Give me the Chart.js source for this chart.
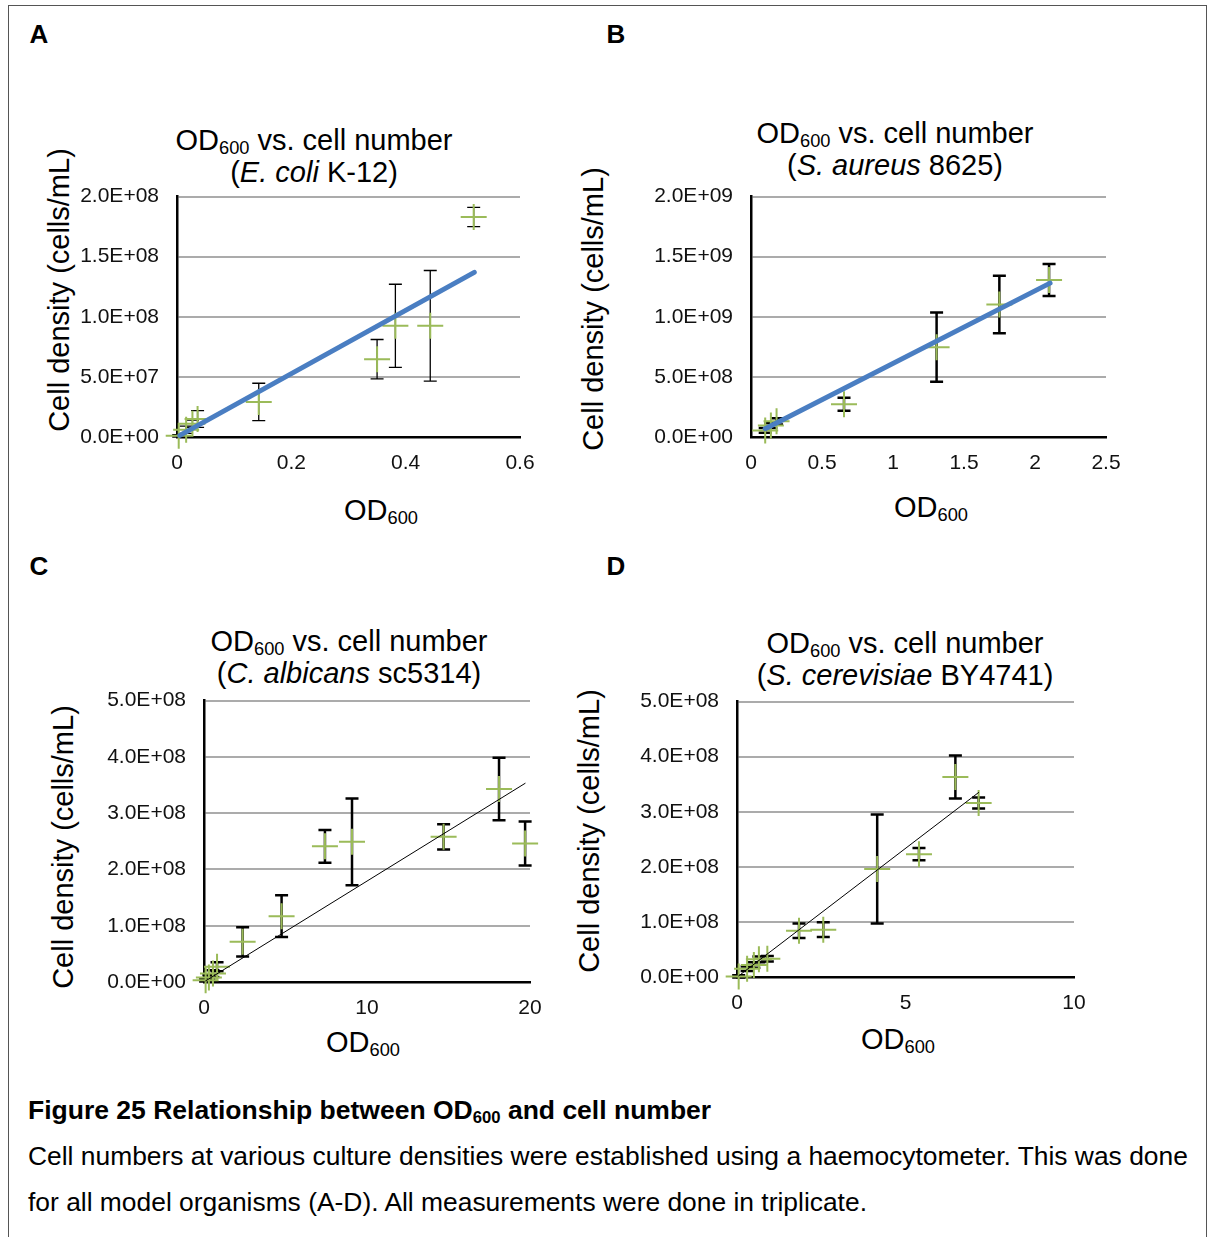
<!DOCTYPE html>
<html>
<head>
<meta charset="utf-8">
<script src="https://cdn.jsdelivr.net/npm/chart.js@4.4.1/dist/chart.umd.min.js"></script>
<style>
  body { margin: 0; width: 1209px; height: 1237px; background: #fff; overflow: hidden; position: relative;
         font-family: "Liberation Sans", Arial, sans-serif; color: #000; }
  .frame { position: absolute; left: 8px; top: 5px; width: 1199px; height: 1300px; border: 1px solid #555; box-sizing: border-box; }
  .box { position: absolute; line-height: 0; }
  .box canvas { display: block; }
  .t { position: absolute; white-space: nowrap; line-height: 1; transform: translate(-50%, -50%); }
  .title { font-size: 29px; }
  .axis { font-size: 29px; }
  .rot { transform: translate(-50%, -50%) rotate(-90deg); }
  .letter { font-size: 26px; font-weight: bold; }
  sub { font-size: 0.63em; vertical-align: -0.24em; line-height: 0; }
  .cap { position: absolute; left: 28px; white-space: nowrap; line-height: 1; transform: translateY(-50%); font-size: 26.4px; }
</style>
</head>
<body>
<div class="frame"></div>

<div class="t letter" style="left:39px;top:34px">A</div>
<div class="t letter" style="left:616px;top:34px">B</div>
<div class="t letter" style="left:39px;top:566px">C</div>
<div class="t letter" style="left:616px;top:566px">D</div>

<div class="t title" style="left:314px;top:140px">OD<sub>600</sub> vs. cell number</div>
<div class="t title" style="left:314px;top:172px">(<i>E. coli</i> K-12)</div>
<div class="t title" style="left:895px;top:133px">OD<sub>600</sub> vs. cell number</div>
<div class="t title" style="left:895px;top:165px">(<i>S. aureus</i> 8625)</div>
<div class="t title" style="left:349px;top:641px">OD<sub>600</sub> vs. cell number</div>
<div class="t title" style="left:349px;top:673px">(<i>C. albicans</i> sc5314)</div>
<div class="t title" style="left:905px;top:643px">OD<sub>600</sub> vs. cell number</div>
<div class="t title" style="left:905px;top:675px">(<i>S. cerevisiae</i> BY4741)</div>

<div class="t axis rot" style="left:59px;top:290px">Cell density (cells/mL)</div>
<div class="t axis rot" style="left:593px;top:309px">Cell density (cells/mL)</div>
<div class="t axis rot" style="left:63px;top:847px">Cell density (cells/mL)</div>
<div class="t axis rot" style="left:589px;top:831px">Cell density (cells/mL)</div>

<div class="t axis" style="left:381px;top:510px">OD<sub>600</sub></div>
<div class="t axis" style="left:931px;top:507px">OD<sub>600</sub></div>
<div class="t axis" style="left:363px;top:1042px">OD<sub>600</sub></div>
<div class="t axis" style="left:898px;top:1039px">OD<sub>600</sub></div>

<div class="box" id="boxA"><canvas id="chartA"></canvas></div>
<div class="box" id="boxB"><canvas id="chartB"></canvas></div>
<div class="box" id="boxC"><canvas id="chartC"></canvas></div>
<div class="box" id="boxD"><canvas id="chartD"></canvas></div>

<div class="cap" style="top:1110px;font-size:26.5px"><b>Figure 25 Relationship between OD<sub>600</sub> and cell number</b></div>
<div class="cap" style="top:1156px">Cell numbers at various culture densities were established using a haemocytometer. This was done</div>
<div class="cap" style="top:1202px">for all model organisms (A-D). All measurements were done in triplicate.</div>

<script>
// A - E. coli K-12
var odA    = [0.003, 0.016, 0.027, 0.036, 0.143, 0.350, 0.382, 0.443, 0.519];
var cellsA = [1e6, 6e6, 1.1e7, 1.5e7, 2.92e7, 6.47e7, 9.25e7, 9.25e7, 1.83e8];
var errA   = [1e6, 3e6, 3e6, 7e6, 1.55e7, 1.64e7, 3.46e7, 4.6e7, 8e6];
var trendXA = [0.005, 0.52];
var trendYA = [1.3e6, 1.37e8];

// B - S. aureus 8625
var odB    = [0.10, 0.14, 0.18, 0.655, 1.307, 1.749, 2.099];
var cellsB = [5.5e7, 9.5e7, 1.3e8, 2.72e8, 7.47e8, 1.103e9, 1.306e9];
var errB   = [2e7, 2e7, 2.5e7, 5.4e7, 2.88e8, 2.39e8, 1.33e8];
var trendXB = [0.10, 2.106];
var trendYB = [6.9e7, 1.28e9];

// C - C. albicans sc5314
var odC    = [0.10, 0.30, 0.55, 0.80, 2.37, 4.76, 7.42, 9.08, 14.7, 18.1, 19.7];
var cellsC = [3e6, 8e6, 1.5e7, 2.7e7, 7.13e7, 1.17e8, 2.41e8, 2.49e8, 2.58e8, 3.43e8, 2.46e8];
var errC   = [2e6, 4e6, 6e6, 8e6, 2.6e7, 3.7e7, 2.9e7, 7.7e7, 2.25e7, 5.55e7, 3.9e7];
var trendXC = [0.1, 19.7];
var trendYC = [2e6, 3.53e8];

// D - S. cerevisiae BY4741
var odD    = [0.05, 0.30, 0.50, 0.65, 0.90, 1.84, 2.56, 4.16, 5.40, 6.48, 7.17];
var cellsD = [1e6, 1.5e7, 2.2e7, 3.2e7, 3.3e7, 8.4e7, 8.6e7, 1.96e8, 2.23e8, 3.63e8, 3.16e8];
var errD   = [2e6, 4e6, 5e6, 5e6, 5e6, 1.3e7, 1.35e7, 9.9e7, 1.1e7, 3.9e7, 1e7];
var trendXD = [0.05, 7.17];
var trendYD = [2e6, 3.35e8];

Chart.defaults.font.family = '"Liberation Sans", Arial, sans-serif';
Chart.defaults.font.size = 21;
Chart.defaults.color = '#111';

function sci(v) {
    if (v === 0) return '0.0E+00';
    var e = Math.floor(Math.log10(v) + 1e-9);
    var m = v / Math.pow(10, e);
    return m.toFixed(1) + 'E+' + String(e).padStart(2, '0');
}

function plain(v) {
    return String(Number(v.toFixed(3)));
}

// y error bars drawn under the markers
var errorBars = {
    id: 'errorBars',
    beforeDatasetsDraw: function (chart, args, opts) {
        var ctx = chart.ctx, xs = chart.scales.x, ys = chart.scales.y;
        chart.data.datasets.forEach(function (ds) {
            if (!ds.yErr) return;
            ctx.save();
            ctx.strokeStyle = opts.color;
            ctx.lineWidth = opts.width;
            ds.data.forEach(function (p, j) {
                var px = xs.getPixelForValue(p.x);
                var top = ys.getPixelForValue(p.y + ds.yErr[j]);
                var bot = ys.getPixelForValue(p.y - ds.yErr[j]);
                ctx.beginPath();
                ctx.moveTo(px, top); ctx.lineTo(px, bot);
                ctx.moveTo(px - opts.cap, top); ctx.lineTo(px + opts.cap, top);
                ctx.moveTo(px - opts.cap, bot); ctx.lineTo(px + opts.cap, bot);
                ctx.stroke();
            });
            ctx.restore();
        });
    }
};

function makePanel(id, area, xs, ys, errs, tx, ty, xMax, xStep, yMax, yStep, trend, err) {
    var yw = 130, xh = 50, pt = 20, pr = 30;
    var left = area.l - yw, top = area.t - pt;
    var w = area.r - left + pr, h = pt + (area.b - area.t) + xh;
    var box = document.getElementById('box' + id);
    box.style.left = left + 'px';
    box.style.top = top + 'px';
    var cv = document.getElementById('chart' + id);
    cv.width = w; cv.height = h;

    var pts = xs.map(function (x, i) { return { x: x, y: ys[i] }; });
    var line = tx.map(function (x, i) { return { x: x, y: ty[i] }; });

    var chart = new Chart(cv, {
        type: 'scatter',
        data: {
            datasets: [{
                data: line,
                showLine: true,
                borderColor: trend.color,
                borderWidth: trend.width,
                borderCapStyle: 'round',
                pointRadius: 0,
                order: 0,
                clip: false
            }, {
                data: pts,
                yErr: errs,
                pointStyle: 'cross',
                pointRadius: 13,
                pointHoverRadius: 13,
                pointBorderColor: '#9BBB59',
                pointBorderWidth: 2,
                order: 1,
                clip: false
            }]
        },
        options: {
            responsive: false,
            maintainAspectRatio: false,
            animation: false,
            events: [],
            layout: { autoPadding: false, padding: { top: pt, right: pr, left: 0, bottom: 0 } },
            plugins: {
                legend: { display: false },
                tooltip: { enabled: false },
                errorBars: err
            },
            scales: {
                x: {
                    type: 'linear', min: 0, max: xMax,
                    afterFit: function (s) { s.height = xh; },
                    grid: { display: false },
                    border: { display: true, color: '#000', width: 2.5 },
                    ticks: { stepSize: xStep, padding: 6, maxRotation: 0, callback: plain }
                },
                y: {
                    type: 'linear', min: 0, max: yMax,
                    afterFit: function (s) { s.width = yw; },
                    grid: {
                        drawTicks: false,
                        lineWidth: 2,
                        color: function (c) { return c.tick && c.tick.value === 0 ? 'rgba(0,0,0,0)' : '#ABABAB'; }
                    },
                    border: { display: true, color: '#000', width: 2.5 },
                    ticks: { stepSize: yStep, padding: 18, callback: sci }
                }
            }
        },
        plugins: [errorBars]
    });

    // shift the canvas so that the plot area lands where the reference has it
    var ca = chart.chartArea;
    var dTop = Math.round(ca.top - pt), dLeft = Math.round(ca.left - yw);
    var dRight = Math.round((w - pr) - ca.right), dBot = Math.round((h - xh) - ca.bottom);
    if (dTop || dLeft || dRight || dBot) {
        box.style.left = (left - dLeft) + 'px';
        box.style.top = (top - dTop) + 'px';
        chart.resize(w + dLeft + dRight, h + dTop + dBot);
    }
    return chart;
}

var blue = { color: '#4A7EC2', width: 5 };
var thin = { color: '#000', width: 1 };

makePanel('A', { l: 177, r: 520, t: 197, b: 437 }, odA, cellsA, errA, trendXA, trendYA,
    0.6, 0.2, 2e8, 5e7, blue, { color: '#000', width: 1.3, cap: 6.5 });
makePanel('B', { l: 751, r: 1106, t: 197, b: 437 }, odB, cellsB, errB, trendXB, trendYB,
    2.5, 0.5, 2e9, 5e8, blue, { color: '#000', width: 2.5, cap: 6.5 });
makePanel('C', { l: 204, r: 530, t: 701, b: 982 }, odC, cellsC, errC, trendXC, trendYC,
    20, 10, 5e8, 1e8, thin, { color: '#000', width: 2.5, cap: 6.5 });
makePanel('D', { l: 737, r: 1074, t: 702, b: 977 }, odD, cellsD, errD, trendXD, trendYD,
    10, 5, 5e8, 1e8, thin, { color: '#000', width: 2.5, cap: 6.5 });
</script>
</body>
</html>
